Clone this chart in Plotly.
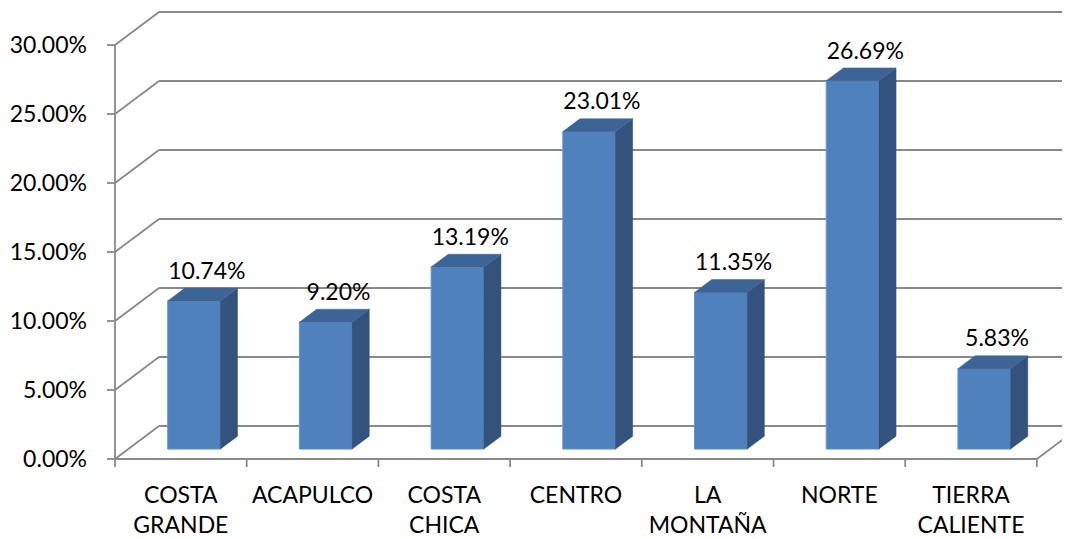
import plotly.graph_objects as go

# ---------------- data ----------------
categories = ["COSTA<br>GRANDE", "ACAPULCO", "COSTA<br>CHICA", "CENTRO",
              "LA<br>MONTAÑA", "NORTE", "TIERRA<br>CALIENTE"]
values = [10.74, 9.20, 13.19, 23.01, 11.35, 26.69, 5.83]
y_ticks = [0, 5, 10, 15, 20, 25, 30]
y_tick_labels = ["0.00%", "5.00%", "10.00%", "15.00%", "20.00%", "25.00%", "30.00%"]
value_labels = [f"{v:.2f}%" for v in values]

# ---------------- layout geometry (pixels, figure coords; page body adds 8px) ----------------
W, H = 1062, 531
PX_X = 131.7          # pixels per category
PX_Y = 13.8           # pixels per percentage point
ORIGIN_X = 107        # pixel x of the front value axis
ORIGIN_Y = 451        # pixel y of the front floor edge
M_L, M_T, M_B, M_R = 92, 0, 66, 0

x0 = -(ORIGIN_X - M_L) / PX_X
x1 = x0 + (W - M_L - M_R) / PX_X
y1 = (ORIGIN_Y - M_T) / PX_Y
y0 = y1 - (H - M_T - M_B) / PX_Y

# pseudo 3-D depth vector (full depth of the floor)
DX = 44 / PX_X
DY = 33 / PX_Y
T_FRONT, T_BACK = 0.30, 0.69           # bar depth span
BW = 0.40                              # bar width in categories
ox0, oy0 = T_FRONT * DX, T_FRONT * DY
dxb, dyb = (T_BACK - T_FRONT) * DX, (T_BACK - T_FRONT) * DY
LBL_DX = 26 / PX_X
LBL_DY = 28 / PX_Y

GRID = "#898989"
FONT = "Lato"
FS = 23
n = len(categories)

shapes = []
def seg(xa, ya, xb, yb):
    shapes.append(dict(type="line", xref="x", yref="y", x0=xa, y0=ya, x1=xb, y1=yb,
                       line=dict(color=GRID, width=1.8), layer="below"))

# back wall gridlines with their diagonal side-wall part
for v in y_ticks:
    seg(0, v, DX, v + DY)
    seg(DX, v + DY, n + DX, v + DY)
    # value axis tick marks
    seg(-8 / PX_X, v, 0, v)
# front value axis
seg(0, y_ticks[0], 0, y_ticks[-1])
# floor front edge and right edge
seg(0, 0, n, 0)
seg(n, 0, n + DX, DY)
# category boundary tick marks
for i in range(n + 1):
    seg(i, 0, i, -8 / PX_Y)

fig = go.Figure()

# front faces
fig.add_trace(go.Bar(
    x=[i + 0.5 + ox0 for i in range(n)], y=values, base=oy0, width=BW,
    marker=dict(color="#4F81BD", line=dict(color="#6A95CA", width=1)),
    hoverinfo="skip", showlegend=False))

# side and top faces
sx, sy = [], []
tx, ty = [], []
for i, v in enumerate(values):
    xl = i + 0.5 + ox0 - BW / 2
    xr = i + 0.5 + ox0 + BW / 2
    yb_, yt_ = oy0, oy0 + v
    sx += [xr, xr + dxb, xr + dxb, xr, xr, None]
    sy += [yb_, yb_ + dyb, yt_ + dyb, yt_, yb_, None]
    tx += [xl, xr, xr + dxb, xl + dxb, xl, None]
    ty += [yt_, yt_, yt_ + dyb, yt_ + dyb, yt_, None]

fig.add_trace(go.Scatter(x=sx, y=sy, mode="lines", fill="toself",
                         fillcolor="#33527D", line=dict(color="#33527D", width=0.5),
                         hoverinfo="skip", showlegend=False))
fig.add_trace(go.Scatter(x=tx, y=ty, mode="lines", fill="toself",
                         fillcolor="#3D6497", line=dict(color="#3D6497", width=0.5),
                         hoverinfo="skip", showlegend=False))

# data labels
fig.add_trace(go.Scatter(
    x=[i + 0.5 + LBL_DX for i in range(n)],
    y=[v + oy0 + LBL_DY for v in values],
    mode="text", text=value_labels, textposition="middle center",
    textfont=dict(family=FONT, size=FS, color="black"),
    hoverinfo="skip", showlegend=False, cliponaxis=False))

fig.update_layout(
    width=W, height=H,
    margin=dict(l=M_L, r=M_R, t=M_T, b=M_B, autoexpand=False),
    paper_bgcolor="white", plot_bgcolor="white",
    shapes=shapes,
    showlegend=False,
    xaxis=dict(range=[x0, x1], showgrid=False, zeroline=False, showline=False,
               tickmode="array", tickvals=[i + 0.5 for i in range(n)], ticktext=categories,
               ticks="", ticklabelstandoff=6,
               tickfont=dict(family=FONT, size=FS, color="black"), fixedrange=True),
    yaxis=dict(range=[y0, y1], showgrid=False, zeroline=False, showline=False,
               tickmode="array", tickvals=y_ticks, ticktext=y_tick_labels,
               ticks="", ticklabelstandoff=12,
               tickfont=dict(family=FONT, size=FS, color="black"), fixedrange=True),
)

fig.write_html("out.html")
